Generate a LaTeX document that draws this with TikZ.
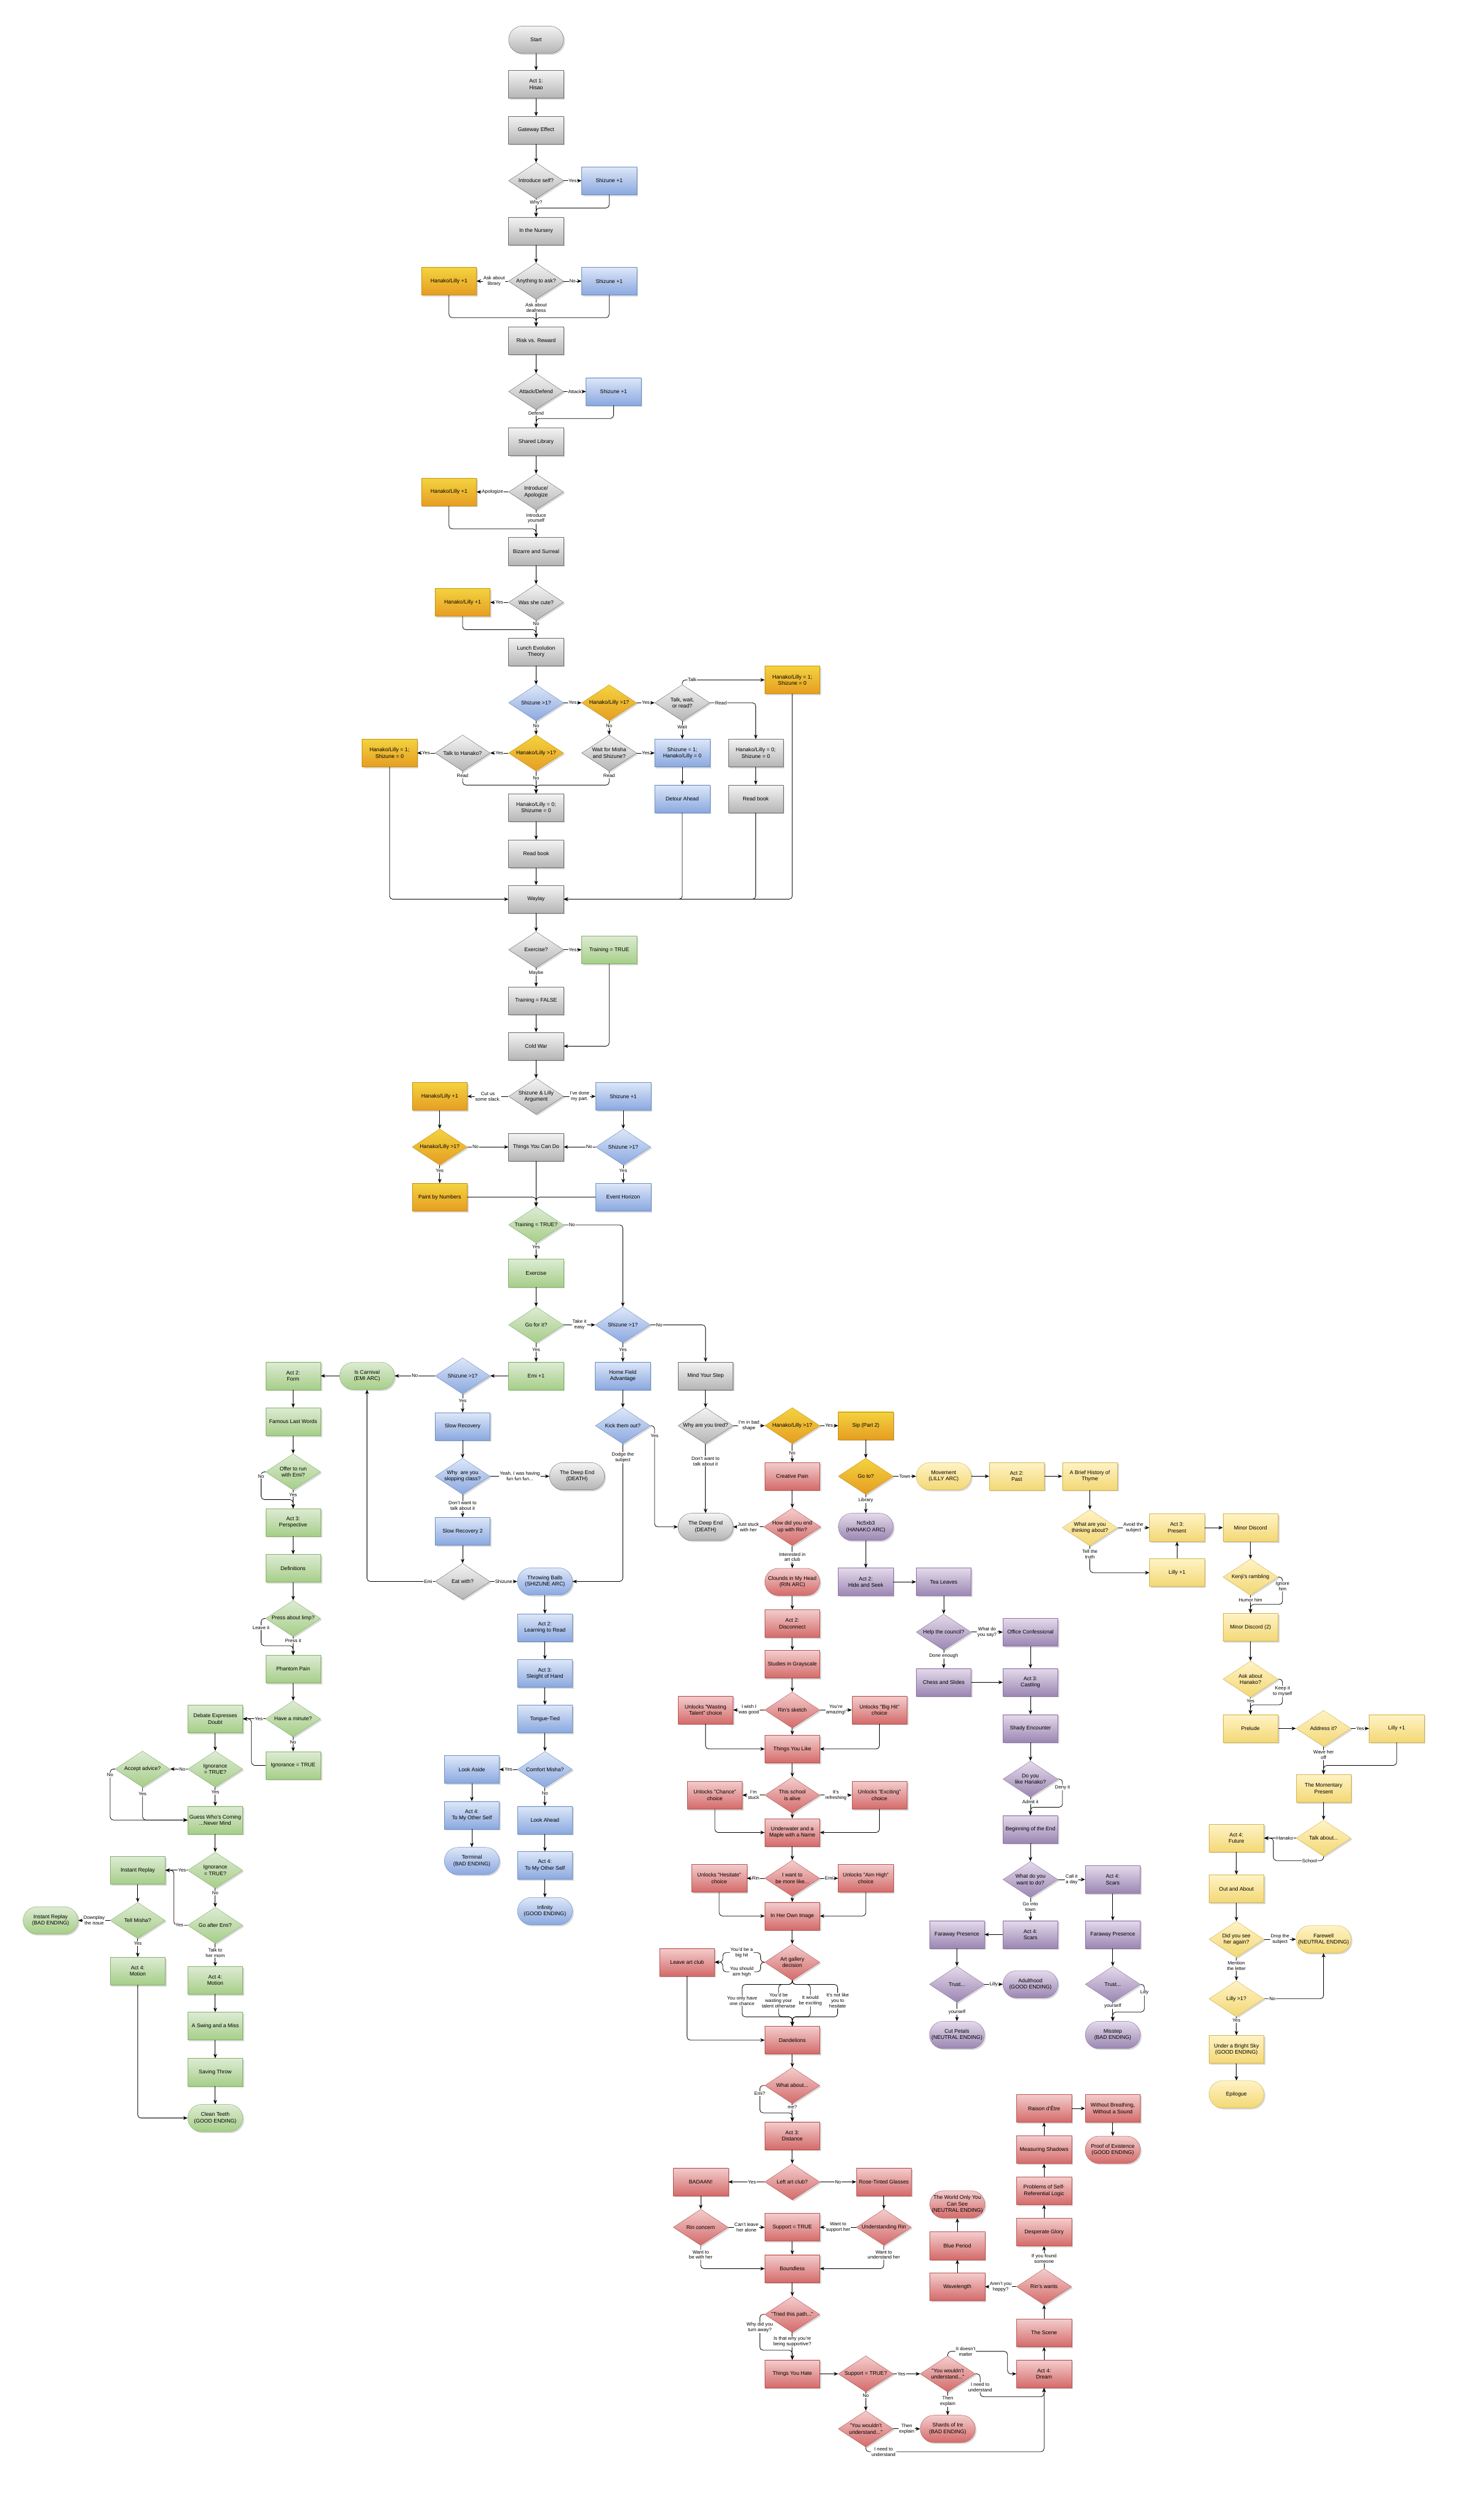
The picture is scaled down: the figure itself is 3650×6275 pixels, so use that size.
\documentclass[tikz,border=0pt]{standalone}
\usepackage{fontspec}
\setmainfont{Liberation Sans}
\usetikzlibrary{positioning, arrows.meta, shapes.geometric, shadows}

\definecolor{greyT}{HTML}{F4F4F4}
\definecolor{greyB}{HTML}{B5B5B5}
\definecolor{greyD}{HTML}{6E6E6E}
\definecolor{blueT}{HTML}{DDE7F8}
\definecolor{blueB}{HTML}{8AA8E0}
\definecolor{blueD}{HTML}{6C8EBF}
\definecolor{goldT}{HTML}{F3D33F}
\definecolor{goldB}{HTML}{E69D22}
\definecolor{goldD}{HTML}{C8900E}
\definecolor{creamT}{HTML}{FFF3C6}
\definecolor{creamB}{HTML}{F3D875}
\definecolor{creamD}{HTML}{D2B450}
\definecolor{greenT}{HTML}{DDEBD4}
\definecolor{greenB}{HTML}{A6CE88}
\definecolor{greenD}{HTML}{82B366}
\definecolor{redT}{HTML}{F3CDCD}
\definecolor{redB}{HTML}{D46B6A}
\definecolor{redD}{HTML}{B85450}
\definecolor{purpleT}{HTML}{E4DAEB}
\definecolor{purpleB}{HTML}{9B86B2}
\definecolor{purpleD}{HTML}{8E72A4}

\newcommand{\nodefont}{\fontsize{7.6}{9}\selectfont}
\newcommand{\lblfont}{\fontsize{6.8}{7.8}\selectfont}

\begin{document}
\begin{tikzpicture}[
    x=0.02cm, y=-0.02cm,
    scene/.style={rectangle, draw, minimum width=2.74cm, minimum height=1.38cm, inner sep=1pt, align=center, font=\nodefont,
        drop shadow={shadow xshift=0.07cm, shadow yshift=-0.07cm, opacity=0.3}},
    choice/.style={diamond, aspect=1.52, draw, minimum width=2.74cm, minimum height=1.8cm, inner sep=0pt, align=center, font=\nodefont,
        drop shadow={shadow xshift=0.07cm, shadow yshift=-0.07cm, opacity=0.3}},
    ending/.style={rectangle, rounded corners=0.68cm, draw, minimum width=2.74cm, minimum height=1.36cm, inner sep=1pt, align=center, font=\nodefont,
        drop shadow={shadow xshift=0.07cm, shadow yshift=-0.07cm, opacity=0.3}},
    greyc/.style={top color=greyT, bottom color=greyB, draw=greyD},
    bluec/.style={top color=blueT, bottom color=blueB, draw=blueD},
    goldc/.style={top color=goldT, bottom color=goldB, draw=goldD},
    creamc/.style={top color=creamT, bottom color=creamB, draw=creamD},
    greenc/.style={top color=greenT, bottom color=greenB, draw=greenD},
    redc/.style={top color=redT, bottom color=redB, draw=redD},
    purplec/.style={top color=purpleT, bottom color=purpleB, draw=purpleD},
    link/.style={-{Stealth[length=2.2mm, width=1.8mm]}, line width=0.7pt, rounded corners=1.6mm},
    lbl/.style={fill=white, inner sep=0.8pt, font=\lblfont, align=center}
]
\useasboundingbox (0,0) rectangle (3650,6275);

% Act 1: common route
\node[ending, greyc] (start) at (1335,99) {Start};
\node[scene, greyc] (act1) at (1335,210) {Act 1:\\Hisao};
\node[scene, greyc] (gateway) at (1335,324) {Gateway Effect};
\node[choice, greyc] (introq) at (1335,450) {Introduce self?};
\node[scene, bluec] (shiz1) at (1517,450) {Shizune +1};
\node[scene, greyc] (nursery) at (1335,575) {In the Nursery};
\node[choice, greyc] (askq) at (1335,700) {Anything to ask?};
\node[scene, goldc] (hl1) at (1118,700) {Hanako/Lilly +1};
\node[scene, bluec] (shiz2) at (1517,700) {Shizune +1};
\node[scene, greyc] (risk) at (1335,848) {Risk vs. Reward};
\node[choice, greyc] (attackq) at (1335,975) {Attack/Defend};
\node[scene, bluec] (shiz3) at (1528,975) {Shizune +1};
\node[scene, greyc] (library) at (1335,1100) {Shared Library};
\node[choice, greyc] (apolq) at (1335,1225) {Introduce/\\Apologize};
\node[scene, goldc] (hl2) at (1118,1225) {Hanako/Lilly +1};
\node[scene, greyc] (bizarre) at (1335,1373) {Bizarre and Surreal};
\node[choice, greyc] (cuteq) at (1335,1500) {Was she cute?};
\node[scene, goldc] (hl3) at (1152,1500) {Hanako/Lilly +1};
\node[scene, greyc] (lunch) at (1335,1623) {Lunch Evolution\\Theory};

% Lunch split
\node[choice, bluec] (shizq1) at (1335,1750) {Shizune >1?};
\node[choice, goldc] (hlq1) at (1517,1750) {Hanako/Lilly >1?};
\node[choice, greyc] (talkq) at (1699,1750) {Talk, wait,\\or read?};
\node[scene, goldc] (hlset1) at (1973,1693) {Hanako/Lilly = 1;\\Shizune = 0};
\node[choice, goldc] (hlq2) at (1335,1875) {Hanako/Lilly >1?};
\node[choice, greyc] (waitq) at (1517,1875) {Wait for Misha\\and Shizune?};
\node[scene, bluec] (shizset) at (1699,1875) {Shizune = 1;\\Hanako/Lilly = 0};
\node[scene, greyc] (reset1) at (1882,1875) {Hanako/Lilly = 0;\\Shizune = 0};
\node[choice, greyc] (talkhq) at (1152,1875) {Talk to Hanako?};
\node[scene, goldc] (hlset2) at (970,1875) {Hanako/Lilly = 1;\\Shizune = 0};
\node[scene, bluec] (detour) at (1699,1989) {Detour Ahead};
\node[scene, greyc] (readbook1) at (1882,1989) {Read book};
\node[scene, greyc] (reset2) at (1335,2011) {Hanako/Lilly = 0;\\Shizume = 0};
\node[scene, greyc] (readbook2) at (1335,2126) {Read book};
\node[scene, greyc] (waylay) at (1335,2239) {Waylay};

% Waylay to Cold War
\node[choice, greyc] (exq) at (1335,2365) {Exercise?};
\node[scene, greenc] (trainT) at (1517,2365) {Training = TRUE};
\node[scene, greyc] (trainF) at (1335,2492) {Training = FALSE};
\node[scene, greyc] (coldwar) at (1335,2605) {Cold War};
\node[choice, greyc] (argq) at (1335,2730) {Shizune \& Lilly\\Argument};
\node[scene, goldc] (hl4) at (1095,2730) {Hanako/Lilly +1};
\node[scene, bluec] (shiz4) at (1552,2730) {Shizune +1};
\node[choice, goldc] (hlq3) at (1095,2856) {Hanako/Lilly >1?};
\node[scene, greyc] (canDo) at (1335,2856) {Things You Can Do};
\node[choice, bluec] (shizq2) at (1552,2856) {Shizune >1?};
\node[scene, goldc] (paint) at (1095,2981) {Paint by Numbers};
\node[scene, bluec] (horizon) at (1552,2981) {Event Horizon};
\node[choice, greenc] (trainq) at (1335,3050) {Training = TRUE?};
\node[scene, greenc] (exercise) at (1335,3170) {Exercise};
\node[choice, greenc] (goq) at (1335,3299) {Go for it?};
\node[choice, bluec] (shizq3) at (1551,3299) {Shizune >1?};
\node[scene, greenc] (emi1) at (1335,3426) {Emi +1};
\node[scene, bluec] (homefield) at (1551,3426) {Home Field\\Advantage};
\node[scene, greyc] (mindstep) at (1757,3426) {Mind Your Step};
\node[choice, bluec] (shizq4) at (1152,3426) {Shizune >1?};
\node[ending, greenc] (carnival) at (914,3426) {Is Carnival\\(EMI ARC)};

% Picking a route
\node[scene, bluec] (slowrec) at (1152,3552) {Slow Recovery};
\node[choice, bluec] (skipq) at (1152,3676) {Why~ are you\\skipping class?};
\node[ending, greyc] (deep1) at (1437,3676) {The Deep End\\(DEATH)};
\node[scene, bluec] (slowrec2) at (1152,3813) {Slow Recovery 2};
\node[choice, greyc] (eatq) at (1152,3938) {Eat with?};
\node[ending, bluec] (throwing) at (1357,3938) {Throwing Balls\\(SHIZUNE ARC)};
\node[choice, bluec] (kickq) at (1551,3550) {Kick them out?};
\node[choice, greyc] (tiredq) at (1757,3550) {Why are you tired?};
\node[ending, greyc] (deep2) at (1757,3802) {The Deep End\\(DEATH)};
\node[choice, goldc] (hlq4) at (1973,3550) {Hanako/Lilly >1?};
\node[scene, goldc] (sip) at (2156,3550) {Sip (Part 2)};
\node[choice, goldc] (gotoq) at (2156,3676) {Go to?};

% Shizune arc
\node[scene, bluec] (learning) at (1357,4053) {Act 2:\\Learning to Read};
\node[scene, bluec] (sleight) at (1357,4167) {Act 3:\\Sleight of Hand};
\node[scene, bluec] (tongue) at (1357,4280) {Tongue-Tied};
\node[choice, bluec] (comfortq) at (1357,4406) {Comfort Misha?};
\node[scene, bluec] (lookaside) at (1175,4406) {Look Aside};
\node[scene, bluec] (otherself1) at (1175,4520) {Act 4:\\To My Other Self};
\node[ending, bluec] (terminal) at (1175,4634) {Terminal\\(BAD ENDING)};
\node[scene, bluec] (lookahead) at (1357,4532) {Look Ahead};
\node[scene, bluec] (otherself2) at (1357,4645) {Act 4:\\To My Other Self};
\node[ending, bluec] (infinity) at (1357,4759) {Infinity\\(GOOD ENDING)};

% Emi arc
\node[scene, greenc] (form) at (730,3426) {Act 2:\\Form};
\node[scene, greenc] (famous) at (730,3540) {Famous Last Words};
\node[choice, greenc] (offerq) at (730,3665) {Offer to run\\with Emi?};
\node[scene, greenc] (perspective) at (730,3791) {Act 3:\\Perspective};
\node[scene, greenc] (definitions) at (730,3905) {Definitions};
\node[choice, greenc] (limpq) at (730,4030) {Press about limp?};
\node[scene, greenc] (phantom) at (730,4156) {Phantom Pain};
\node[choice, greenc] (minuteq) at (730,4280) {Have a minute?};
\node[scene, greenc] (debate) at (536,4280) {Debate Expresses\\Doubt};
\node[scene, greenc] (ignorance) at (730,4396) {Ignorance = TRUE};
\node[choice, greenc] (ignq1) at (536,4405) {Ignorance\\= TRUE?};
\node[choice, greenc] (adviceq) at (355,4405) {Accept advice?};
\node[scene, greenc] (guess) at (536,4532) {Guess Who's Coming\\...Never Mind};
\node[choice, greenc] (ignq2) at (536,4657) {Ignorance\\= TRUE?};
\node[scene, greenc] (replay) at (343,4657) {Instant Replay};
\node[choice, greenc] (chaseq) at (536,4794) {Go after Emi?};
\node[choice, greenc] (mishaq) at (343,4782) {Tell Misha?};
\node[ending, greenc] (replayend) at (126,4782) {Instant Replay\\(BAD ENDING)};
\node[scene, greenc] (motion1) at (343,4908) {Act 4:\\Motion};
\node[scene, greenc] (motion2) at (536,4931) {Act 4:\\Motion};
\node[scene, greenc] (swing) at (536,5045) {A Swing and a Miss};
\node[scene, greenc] (saving) at (536,5160) {Saving Throw};
\node[ending, greenc] (teeth) at (536,5274) {Clean Teeth\\(GOOD ENDING)};

% Rin arc
\node[scene, redc] (creative) at (1973,3676) {Creative Pain};
\node[choice, redc] (endrinq) at (1973,3802) {How did you end\\up with Rin?};
\node[ending, redc] (clouds) at (1973,3939) {Clounds in My Head\\(RIN ARC)};
\node[scene, redc] (disconnect) at (1973,4043) {Act 2:\\Disconnect};
\node[scene, redc] (grayscale) at (1973,4144) {Studies in Grayscale};
\node[choice, redc] (sketchq) at (1973,4258) {Rin's sketch};
\node[scene, redc] (wasting) at (1757,4258) {Unlocks "Wasting\\Talent" choice};
\node[scene, redc] (bighit) at (2190,4258) {Unlocks "Big Hit"\\choice};
\node[scene, redc] (thingslike) at (1973,4355) {Things You Like};
\node[choice, redc] (aliveq) at (1973,4470) {This school\\is alive};
\node[scene, redc] (chance) at (1780,4470) {Unlocks "Chance"\\choice};
\node[scene, redc] (exciting) at (2190,4470) {Unlocks "Exciting"\\choice};
\node[scene, redc] (underwater) at (1973,4563) {Underwater and a\\Maple with a Name};
\node[choice, redc] (morelikeq) at (1973,4677) {I want to\\be more like...};
\node[scene, redc] (hesitate) at (1791,4677) {Unlocks "Hesitate"\\choice};
\node[scene, redc] (aimhigh) at (2156,4677) {Unlocks "Aim High"\\choice};
\node[scene, redc] (ownimage) at (1973,4771) {In Her Own Image};
\node[choice, redc] (galleryq) at (1973,4886) {Art gallery\\decision};
\node[scene, redc] (leaveclub) at (1711,4886) {Leave art club};
\node[scene, redc] (dandelions) at (1973,5080) {Dandelions};
\node[choice, redc] (aboutq) at (1973,5193) {What about...};
\node[scene, redc] (distance) at (1973,5318) {Act 3:\\Distance};
\node[choice, redc] (leftq) at (1973,5433) {Left art club?};
\node[scene, redc] (badaan) at (1745,5433) {BADAAN!};
\node[scene, redc] (rosetinted) at (2201,5433) {Rose-Tinted Glasses};
\node[choice, redc] (concernq) at (1745,5546) {Rin concern};
\node[scene, redc] (support) at (1973,5546) {Support = TRUE};
\node[choice, redc] (understandq) at (2201,5546) {Understanding Rin};
\node[scene, redc] (boundless) at (1973,5649) {Boundless};
\node[choice, redc] (triedq) at (1973,5763) {"Tried this path..."};
\node[scene, redc] (hate) at (1973,5911) {Things You Hate};
\node[choice, redc] (supportq) at (2156,5911) {Support = TRUE?};
\node[choice, redc] (wouldnt1) at (2360,5911) {"You wouldn't\\understand..."};
\node[choice, redc] (wouldnt2) at (2156,6048) {"You wouldn't\\understand..."};
\node[ending, redc] (shards) at (2360,6048) {Shards of Ire\\(BAD ENDING)};
\node[scene, redc] (dream) at (2600,5911) {Act 4:\\Dream};
\node[scene, redc] (scene) at (2600,5809) {The Scene};
\node[choice, redc] (wantsq) at (2600,5694) {Rin's wants};
\node[scene, redc] (glory) at (2600,5558) {Desperate Glory};
\node[scene, redc] (problems) at (2600,5455) {Problems of Self-\\Referential Logic};
\node[scene, redc] (shadows) at (2600,5353) {Measuring Shadows};
\node[scene, redc] (raison) at (2600,5250) {Raison d'Être};
\node[scene, redc] (breathing) at (2771,5250) {Without Breathing,\\Without a Sound};
\node[ending, redc] (proof) at (2771,5353) {Proof of Existence\\(GOOD ENDING)};
\node[scene, redc] (wavelength) at (2384,5694) {Wavelength};
\node[scene, redc] (blueperiod) at (2384,5592) {Blue Period};
\node[ending, redc] (worldonly) at (2384,5489) {The World Only You\\Can See\\(NEUTRAL ENDING)};

% Hanako arc
\node[ending, purplec] (nc5) at (2156,3802) {Nc5xb3\\(HANAKO ARC)};
\node[scene, purplec] (hide) at (2156,3939) {Act 2:\\Hide and Seek};
\node[scene, purplec] (tea) at (2350,3939) {Tea Leaves};
\node[choice, purplec] (councilq) at (2350,4064) {Help the council?};
\node[scene, purplec] (office) at (2566,4064) {Office Confessional};
\node[scene, purplec] (chess) at (2350,4189) {Chess and Slides};
\node[scene, purplec] (castling) at (2566,4189) {Act 3:\\Castling};
\node[scene, purplec] (shady) at (2566,4304) {Shady Encounter};
\node[choice, purplec] (likeq) at (2566,4430) {Do you\\like Hanako?};
\node[scene, purplec] (beginend) at (2566,4555) {Beginning of the End};
\node[choice, purplec] (wantq) at (2566,4680) {What do you\\want to do?};
\node[scene, purplec] (scars2) at (2771,4680) {Act 4:\\Scars};
\node[scene, purplec] (scars1) at (2566,4817) {Act 4:\\Scars};
\node[scene, purplec] (faraway1) at (2383,4817) {Faraway Presence};
\node[scene, purplec] (faraway2) at (2771,4817) {Faraway Presence};
\node[choice, purplec] (trust1) at (2383,4941) {Trust...};
\node[choice, purplec] (trust2) at (2771,4941) {Trust...};
\node[ending, purplec] (adulthood) at (2566,4941) {Adulthood\\(GOOD ENDING)};
\node[ending, purplec] (cutpetals) at (2383,5067) {Cut Petals\\(NEUTRAL ENDING)};
\node[ending, purplec] (misstep) at (2771,5067) {Misstep\\(BAD ENDING)};

% Lilly arc
\node[ending, creamc] (movement) at (2350,3676) {Movement\\(LILLY ARC)};
\node[scene, creamc] (past) at (2532,3676) {Act 2:\\Past};
\node[scene, creamc] (thyme) at (2714,3676) {A Brief History of\\Thyme};
\node[choice, creamc] (thinkq) at (2714,3804) {What are you\\thinking about?};
\node[scene, creamc] (present) at (2931,3804) {Act 3:\\Present};
\node[scene, creamc] (lilly1) at (2931,3916) {Lilly +1};
\node[scene, creamc] (discord) at (3114,3804) {Minor Discord};
\node[choice, creamc] (kenjiq) at (3114,3927) {Kenji's rambling};
\node[scene, creamc] (discord2) at (3114,4052) {Minor Discord (2)};
\node[choice, creamc] (askhq) at (3114,4181) {Ask about\\Hanako?};
\node[scene, creamc] (prelude) at (3114,4304) {Prelude};
\node[choice, creamc] (addressq) at (3296,4304) {Address it?};
\node[scene, creamc] (lilly2) at (3478,4304) {Lilly +1};
\node[scene, creamc] (momentary) at (3296,4453) {The Momentary\\Present};
\node[choice, creamc] (talkaboutq) at (3296,4577) {Talk about...};
\node[scene, creamc] (future) at (3079,4577) {Act 4:\\Future};
\node[scene, creamc] (outabout) at (3079,4703) {Out and About};
\node[choice, creamc] (seeq) at (3079,4829) {Did you see\\her again?};
\node[ending, creamc] (farewell) at (3296,4829) {Farewell\\(NEUTRAL ENDING)};
\node[choice, creamc] (lillyq) at (3079,4977) {Lilly >1?};
\node[scene, creamc] (brightsky) at (3079,5103) {Under a Bright Sky\\(GOOD ENDING)};
\node[ending, creamc] (epilogue) at (3079,5215) {Epilogue};

% plain arrows
\foreach \a/\b in {start/act1, act1/gateway, gateway/introq, nursery/askq, risk/attackq,
    library/apolq, bizarre/cuteq, lunch/shizq1, shizset/detour, reset1/readbook1,
    reset2/readbook2, readbook2/waylay, waylay/exq, trainF/coldwar, coldwar/argq,
    hl4/hlq3, shiz4/shizq2, canDo/trainq, exercise/goq, emi1/shizq4, homefield/kickq,
    mindstep/tiredq, slowrec/skipq, slowrec2/eatq, sip/gotoq,
    throwing/learning, learning/sleight, sleight/tongue, tongue/comfortq,
    lookaside/otherself1, otherself1/terminal, lookahead/otherself2, otherself2/infinity,
    carnival/form, form/famous, famous/offerq, perspective/definitions, definitions/limpq,
    phantom/minuteq, debate/ignq1, guess/ignq2, replay/mishaq, motion2/swing,
    swing/saving, saving/teeth,
    creative/endrinq, clouds/disconnect, disconnect/grayscale, grayscale/sketchq,
    sketchq/thingslike, thingslike/aliveq, aliveq/underwater, underwater/morelikeq,
    morelikeq/ownimage, ownimage/galleryq, dandelions/aboutq, distance/leftq,
    badaan/concernq, rosetinted/understandq, support/boundless, boundless/triedq,
    hate/supportq, dream/scene, scene/wantsq, glory/problems, problems/shadows,
    shadows/raison, raison/breathing, breathing/proof, wavelength/blueperiod,
    blueperiod/worldonly,
    nc5/hide, hide/tea, tea/councilq, chess/castling, office/castling, castling/shady,
    shady/likeq, beginend/wantq, scars1/faraway1, scars2/faraway2, faraway1/trust1,
    faraway2/trust2,
    movement/past, past/thyme, thyme/thinkq, lilly1/present, present/discord,
    discord/kenjiq, discord2/askhq, prelude/addressq, momentary/talkaboutq,
    future/outabout, outabout/seeq, brightsky/epilogue}
    \draw[link] (\a) -- (\b);

% Act 1 choices
\draw[link] (introq) -- node[lbl] {Yes} (shiz1);
\draw[link] (introq) -- node[lbl, pos=0.2] {Why?} (nursery);
\draw[link] (shiz1.south) |- (1335,518) -- (nursery.north);
\draw[link] (askq) -- node[lbl, pos=0.45] {Ask about\\library} (hl1);
\draw[link] (askq) -- node[lbl] {No} (shiz2);
\draw[link] (askq) -- node[lbl, pos=0.3] {Ask about\\deafness} (risk);
\draw[link] (hl1.south) |- (1335,791) -- (risk.north);
\draw[link] (shiz2.south) |- (1335,791) -- (risk.north);
\draw[link] (attackq) -- node[lbl] {Attack} (shiz3);
\draw[link] (attackq) -- node[lbl, pos=0.2] {Defend} (library);
\draw[link] (shiz3.south) |- (1335,1042) -- (library.north);
\draw[link] (apolq) -- node[lbl] {Apologize} (hl2);
\draw[link] (apolq) -- node[lbl, pos=0.3] {Introduce\\yourself} (bizarre);
\draw[link] (hl2.south) |- (1335,1317) -- (bizarre.north);
\draw[link] (cuteq) -- node[lbl] {Yes} (hl3);
\draw[link] (cuteq) -- node[lbl, pos=0.2] {No} (lunch);
\draw[link] (hl3.south) |- (1335,1568) -- (lunch.north);

% Lunch split
\draw[link] (shizq1) -- node[lbl] {Yes} (hlq1);
\draw[link] (hlq1) -- node[lbl] {Yes} (talkq);
\draw[link] (talkq.north) |- node[lbl, pos=0.56] {Talk} (hlset1.west);
\draw[link] (talkq.east) -| node[lbl, pos=0.12] {Read} (reset1.north);
\draw[link] (talkq) -- node[lbl, pos=0.35] {Wait} (shizset);
\draw[link] (shizq1) -- node[lbl, pos=0.35] {No} (hlq2);
\draw[link] (hlq1) -- node[lbl, pos=0.35] {No} (waitq);
\draw[link] (waitq) -- node[lbl] {Yes} (shizset);
\draw[link] (hlq2) -- node[lbl] {Yes} (talkhq);
\draw[link] (talkhq) -- node[lbl] {Yes} (hlset2);
\draw[link] (hlq2) -- node[lbl, pos=0.3] {No} (reset2);
\draw[link] (talkhq.south) |- node[lbl, pos=0.17] {Read} (1335,1955) -- (reset2.north);
\draw[link] (waitq.south) |- node[lbl, pos=0.17] {Read} (1335,1955) -- (reset2.north);
\draw[link] (hlset2.south) |- (waylay.west);
\draw[link] (detour.south) |- (waylay.east);
\draw[link] (readbook1.south) |- (waylay.east);
\draw[link] (hlset1.south) |- (waylay.east);

% Exercise and Cold War
\draw[link] (exq) -- node[lbl] {Yes} (trainT);
\draw[link] (exq) -- node[lbl, pos=0.25] {Maybe} (trainF);
\draw[link] (trainT.south) |- (coldwar.east);
\draw[link] (argq) -- node[lbl] {Cut us\\some slack.} (hl4);
\draw[link] (argq) -- node[lbl] {I've done\\my part.} (shiz4);
\draw[link] (hlq3) -- node[lbl, pos=0.2] {No} (canDo);
\draw[link] (shizq2) -- node[lbl, pos=0.2] {No} (canDo);
\draw[link] (hlq3) -- node[lbl, pos=0.3] {Yes} (paint);
\draw[link] (shizq2) -- node[lbl, pos=0.3] {Yes} (horizon);
\draw[link] (paint.east) -| (trainq.north);
\draw[link] (horizon.west) -| (trainq.north);
\draw[link] (trainq) -- node[lbl, pos=0.25] {Yes} (exercise);
\draw[link] (trainq.east) -| node[lbl, pos=0.07] {No} (shizq3.north);
\draw[link] (goq) -- node[lbl] {Take it\\easy} (shizq3);
\draw[link] (goq) -- node[lbl, pos=0.35] {Yes} (emi1);
\draw[link] (shizq3) -- node[lbl, pos=0.35] {Yes} (homefield);
\draw[link] (shizq3.east) -| node[lbl, pos=0.08] {No} (mindstep.north);
\draw[link] (shizq4) -- node[lbl] {No} (carnival);
\draw[link] (shizq4) -- node[lbl, pos=0.35] {Yes} (slowrec);

% Picking a route
\draw[link] (skipq) -- node[lbl] {Yeah, I was having\\fun fun fun...} (deep1);
\draw[link] (skipq) -- node[lbl] {Don't want to\\talk about it} (slowrec2);
\draw[link] (eatq.west) -| node[lbl, pos=0.05] {Emi} (carnival.south);
\draw[link] (eatq) -- node[lbl] {Shizune} (throwing);
\draw[link] (kickq.east) -| node[lbl, pos=0.55] {Yes} (1630,3802) -- (deep2.west);
\draw[link] (kickq.south) |- node[lbl, pos=0.05] {Dodge the\\subject} (throwing.east);
\draw[link] (tiredq) -- node[lbl, pos=0.25] {Don't want to\\talk about it} (deep2);
\draw[link] (tiredq) -- node[lbl] {I'm in bad\\shape} (hlq4);
\draw[link] (hlq4) -- node[lbl] {Yes} (sip);
\draw[link] (hlq4) -- node[lbl] {No} (creative);
\draw[link] (gotoq) -- node[lbl] {Town} (movement);
\draw[link] (gotoq) -- node[lbl, pos=0.3] {Library} (nc5);

% Shizune arc
\draw[link] (comfortq) -- node[lbl] {Yes} (lookaside);
\draw[link] (comfortq) -- node[lbl, pos=0.3] {No} (lookahead);

% Emi arc
\draw[link] (offerq) -- node[lbl, pos=0.25] {Yes} (perspective);
\draw[link] (offerq.west) -- ++(-11,0) |- node[lbl, pos=0.08] {No} (730,3734) -- (perspective.north);
\draw[link] (limpq) -- node[lbl, pos=0.23] {Press it} (phantom);
\draw[link] (limpq.west) -- ++(-11,0) |- node[lbl, pos=0.17] {Leave it} (730,4098) -- (phantom.north);
\draw[link] (minuteq) -- node[lbl, pos=0.3] {Yes} (debate);
\draw[link] (minuteq) -- node[lbl, pos=0.35] {No} (ignorance);
\draw[link] (ignorance.west) -- ++(-35,0) |- (debate.east);
\draw[link] (ignq1) -- node[lbl, pos=0.3] {No} (adviceq);
\draw[link] (ignq1) -- node[lbl, pos=0.27] {Yes} (guess);
\draw[link] (adviceq.west) -- ++(-12,0) |- node[lbl, pos=0.06] {No} (guess.west);
\draw[link] (adviceq.south) |- node[lbl, pos=0.1] {Yes} (guess.west);
\draw[link] (ignq2) -- node[lbl, pos=0.25] {Yes} (replay);
\draw[link] (ignq2) -- node[lbl, pos=0.25] {No} (chaseq);
\draw[link] (chaseq.west) -- node[lbl, pos=0.6] {Yes} ++(-34,0) |- (replay.east);
\draw[link] (mishaq) -- node[lbl] {Downplay\\the issue} (replayend);
\draw[link] (mishaq) -- node[lbl, pos=0.27] {Yes} (motion1);
\draw[link] (chaseq) -- node[lbl, pos=0.4] {Talk to\\her mom} (motion2);
\draw[link] (motion1.south) |- (teeth.west);

% Rin arc
\draw[link] (endrinq) -- node[lbl] {Just stuck\\with her} (deep2);
\draw[link] (endrinq) -- node[lbl] {Interested in\\art club} (clouds);
\draw[link] (sketchq) -- node[lbl] {I wish I\\was good} (wasting);
\draw[link] (sketchq) -- node[lbl] {You're\\amazing!} (bighit);
\draw[link] (wasting.south) |- (thingslike.west);
\draw[link] (bighit.south) |- (thingslike.east);
\draw[link] (aliveq) -- node[lbl] {I'm\\stuck} (chance);
\draw[link] (aliveq) -- node[lbl] {It's\\refreshing} (exciting);
\draw[link] (chance.south) |- (underwater.west);
\draw[link] (exciting.south) |- (underwater.east);
\draw[link] (morelikeq) -- node[lbl] {Rin} (hesitate);
\draw[link] (morelikeq) -- node[lbl] {Emi} (aimhigh);
\draw[link] (hesitate.south) |- (ownimage.west);
\draw[link] (aimhigh.south) |- (ownimage.east);
\draw[link] (galleryq.west) -- ++(-10,0) |- node[lbl, pos=0.75] {You'd be a\\big hit} (1800,4862) |- (leaveclub.east);
\draw[link] (galleryq.west) -- ++(-10,0) |- node[lbl, pos=0.75] {You should\\aim high} (1800,4910) |- (leaveclub.east);
\draw[link] (galleryq.south) -- ++(0,10) -| node[lbl, pos=0.75] {You only have\\one chance} (1848,5022) -| (dandelions.north);
\draw[link] (galleryq.south) -- ++(0,10) -| node[lbl, pos=0.75] {You'd be\\wasting your\\talent otherwise} (1939,5022) -| (dandelions.north);
\draw[link] (galleryq.south) -- ++(0,10) -| node[lbl, pos=0.75] {It would\\be exciting} (2018,5022) -| (dandelions.north);
\draw[link] (galleryq.south) -- ++(0,10) -| node[lbl, pos=0.75] {It's not like\\you to\\hesitate} (2086,5022) -| (dandelions.north);
\draw[link] (leaveclub.south) |- (dandelions.west);
\draw[link] (aboutq) -- node[lbl, pos=0.2] {me?} (distance);
\draw[link] (aboutq.west) -- ++(-12,0) |- node[lbl, pos=0.15] {Emi?} (1973,5261) -- (distance.north);
\draw[link] (leftq) -- node[lbl, pos=0.35] {Yes} (badaan);
\draw[link] (leftq) -- node[lbl] {No} (rosetinted);
\draw[link] (concernq) -- node[lbl] {Can't leave\\her alone} (support);
\draw[link] (understandq) -- node[lbl] {Want to\\support her} (support);
\draw[link] (concernq.south) |- node[lbl, pos=0.2] {Want to\\be with her} (boundless.west);
\draw[link] (understandq.south) |- node[lbl, pos=0.2] {Want to\\understand her} (boundless.east);
\draw[link] (triedq) -- node[lbl, pos=0.33] {Is that why you're\\being supportive?} (hate);
\draw[link] (triedq.west) -- ++(-12,0) |- node[lbl, pos=0.18] {Why did you\\turn away?} (1973,5852) -- (hate.north);
\draw[link] (supportq) -- node[lbl, pos=0.3] {Yes} (wouldnt1);
\draw[link] (supportq) -- node[lbl, pos=0.2] {No} (wouldnt2);
\draw[link] (wouldnt1.north) |- node[lbl, pos=0.65] {It doesn't\\matter} (2509,5855) |- (dream.west);
\draw[link] (wouldnt1.east) -- ++(12,0) |- node[lbl, pos=0.29] {I need to\\understand} (2600,5968) -- (dream.south);
\draw[link] (wouldnt1) -- node[lbl, pos=0.4] {Then\\explain} (shards);
\draw[link] (wouldnt2) -- node[lbl] {Then\\explain} (shards);
\draw[link] (wouldnt2.south) |- node[lbl, pos=0.55] {I need to\\understand} (2600,6105) -- (dream.south);
\draw[link] (wantsq) -- node[lbl, pos=0.45] {If you found\\someone} (glory);
\draw[link] (wantsq) -- node[lbl] {Aren't you\\happy?} (wavelength);

% Hanako arc
\draw[link] (councilq) -- node[lbl] {What do\\you say?} (office);
\draw[link] (councilq) -- node[lbl, pos=0.3] {Done enough} (chess);
\draw[link] (likeq) -- node[lbl, pos=0.25] {Admit it} (beginend);
\draw[link] (likeq.east) -- ++(11,0) |- node[lbl, pos=0.15] {Deny it} (2566,4500) -- (beginend.north);
\draw[link] (wantq) -- node[lbl] {Call it\\a day} (scars2);
\draw[link] (wantq) -- node[lbl, pos=0.4] {Go into\\town} (scars1);
\draw[link] (trust1) -- node[lbl] {Lilly} (adulthood);
\draw[link] (trust1) -- node[lbl] {yourself} (cutpetals);
\draw[link] (trust2) -- node[lbl, pos=0.2] {yourself} (misstep);
\draw[link] (trust2.east) -- ++(10,0) |- node[lbl, pos=0.15] {Lilly} (2771,5010) -- (misstep.north);

% Lilly arc
\draw[link] (thinkq) -- node[lbl] {Avoid the\\subject} (present);
\draw[link] (thinkq.south) |- node[lbl, pos=0.15] {Tell the\\truth} (lilly1.west);
\draw[link] (kenjiq) -- node[lbl, pos=0.25] {Humor him} (discord2);
\draw[link] (kenjiq.east) -- ++(11,0) |- node[lbl, pos=0.17] {Ignore\\him} (3114,3995) -- (discord2.north);
\draw[link] (askhq) -- node[lbl, pos=0.2] {Yes} (prelude);
\draw[link] (askhq.east) -- ++(11,0) |- node[lbl, pos=0.24] {Keep it\\to myself} (3114,4245) -- (prelude.north);
\draw[link] (addressq) -- node[lbl] {Yes} (lilly2);
\draw[link] (addressq) -- node[lbl, pos=0.3] {Wave her\\off} (momentary);
\draw[link] (lilly2.south) |- (3296,4396) -- (momentary.north);
\draw[link] (talkaboutq) -- node[lbl, pos=0.35] {Hanako} (future);
\draw[link] (talkaboutq.south) |- node[lbl, pos=0.64] {School} (3171,4633) |- (future.east);
\draw[link] (seeq) -- node[lbl] {Drop the\\subject} (farewell);
\draw[link] (seeq) -- node[lbl, pos=0.35] {Mention\\the letter} (lillyq);
\draw[link] (lillyq.east) -| node[lbl, pos=0.07] {No} (farewell.south);
\draw[link] (lillyq) -- node[lbl, pos=0.2] {Yes} (brightsky);

\end{tikzpicture}
\end{document}
